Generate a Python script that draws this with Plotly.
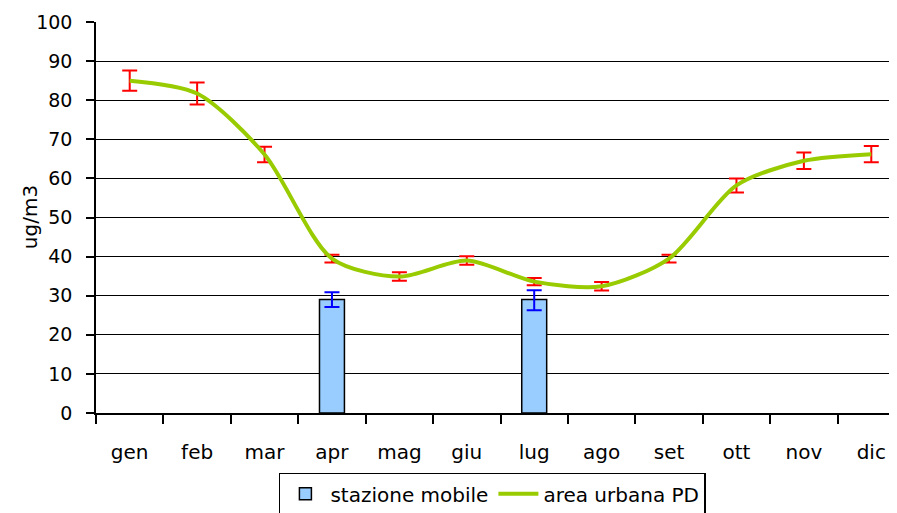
import plotly.graph_objects as go

months = ["gen", "feb", "mar", "apr", "mag", "giu", "lug", "ago", "set", "ott", "nov", "dic"]
urban_values = [85.0, 81.7, 66.1, 39.5, 34.9, 39.0, 33.6, 32.4, 39.5, 58.2, 64.5, 66.2]
urban_errors = [2.6, 2.8, 2.0, 1.0, 1.1, 1.1, 0.9, 1.1, 1.0, 1.8, 2.1, 2.1]
mobile_values = [None, None, None, 29.0, None, None, 29.0, None, None, None, None, None]
mobile_err_plus = [0, 0, 0, 1.9, 0, 0, 2.4, 0, 0, 0, 0, 0]
mobile_err_minus = [0, 0, 0, 1.9, 0, 0, 2.7, 0, 0, 0, 0, 0]
y_ticks = [0, 10, 20, 30, 40, 50, 60, 70, 80, 90, 100]
y_title = "ug/m3"

FONT = "DejaVu Sans, Liberation Sans, Arial, sans-serif"

fig = go.Figure()
fig.add_trace(go.Bar(
    x=months, y=mobile_values, name="stazione mobile",
    marker=dict(color="#99CCFF", line=dict(color="black", width=1.5)),
    width=0.37,
    error_y=dict(type="data", symmetric=False, array=mobile_err_plus, arrayminus=mobile_err_minus,
                 color="#0000FF", thickness=2, width=7.5),
))
fig.add_trace(go.Scatter(
    x=months, y=urban_values, name="area urbana PD", mode="lines",
    line=dict(color="#99CC00", width=4, shape="spline", smoothing=0.8),
    error_y=dict(type="data", array=urban_errors, color="#FF0000", thickness=2, width=7.5),
))

fig.update_layout(
    width=897, height=513,
    margin=dict(l=88, r=0, t=14, b=108),
    paper_bgcolor="white", plot_bgcolor="white",
    font=dict(family=FONT, size=19, color="black"),
    showlegend=True,
    legend=dict(orientation="h", x=0.49, xanchor="center", y=-0.153, yanchor="top",
                bordercolor="black", borderwidth=1.5, font=dict(size=20),
                itemwidth=40, tracegroupgap=0),
    annotations=[dict(text=y_title, xref="paper", yref="paper", x=-0.082, y=0.5,
                      xanchor="center", yanchor="middle", textangle=-90, showarrow=False,
                      font=dict(size=20))],
)
fig.update_xaxes(
    type="category", range=[-0.5, 11.5],
    showline=True, linecolor="black", linewidth=1.5,
    ticks="outside", tickson="boundaries", ticklen=9, tickcolor="black", tickwidth=1.5,
    showgrid=False, ticklabelstandoff=20, tickfont=dict(size=20),
)
fig.update_yaxes(
    range=[0, 100], tickvals=y_ticks,
    showline=True, linecolor="black", linewidth=1.5,
    ticks="outside", ticklen=8, tickcolor="black", tickwidth=1.5,
    showgrid=True, gridcolor="black", gridwidth=1.2, zeroline=False,
    ticklabelstandoff=10, tickfont=dict(size=19),
)

fig.write_html("out.html")
